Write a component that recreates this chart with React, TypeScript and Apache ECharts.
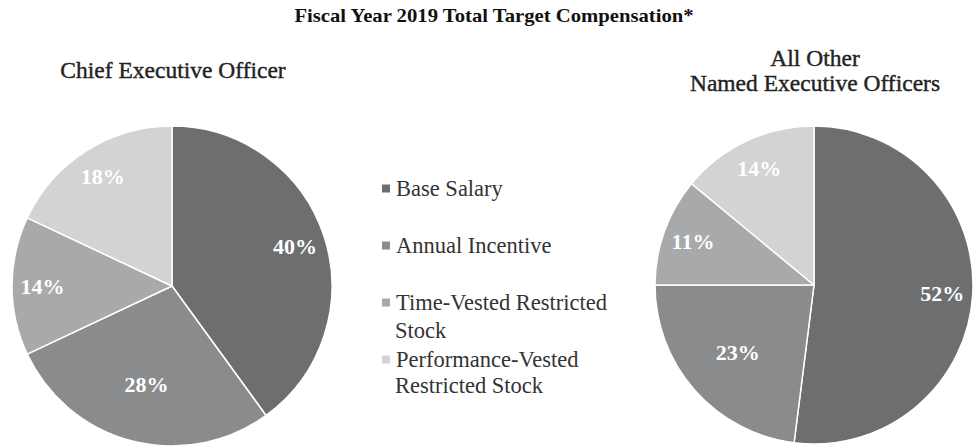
import React, { useEffect, useRef } from "react";
import * as echarts from "echarts";

const categories = [
  "Base Salary",
  "Annual Incentive",
  "Time-Vested Restricted Stock",
  "Performance-Vested Restricted Stock",
];
const legendFirstLines = ["Base Salary", "Annual Incentive", "Time-Vested Restricted", "Performance-Vested"];
const legendSecondLines = ["", "", "Stock", "Restricted Stock"];
const ceoValues = [40, 28, 14, 18];
const neoValues = [52, 23, 11, 14];
const sliceColors = ["#6d6e70", "#8a8b8d", "#a8a9ab", "#d2d3d5"];

const mainTitle = "Fiscal Year 2019 Total Target Compensation*";
const ceoTitle = "Chief Executive Officer";
const neoTitle = "All Other\nNamed Executive Officers";

const SERIF = "'Liberation Serif', 'Times New Roman', serif";

function pieSeries(values: number[], center: [number, number], R: number) {
  const data = values.map((v, i) => ({
    name: categories[i],
    value: v,
    itemStyle: { color: sliceColors[i] },
  }));
  const labelStyle = {
    position: "inside",
    formatter: "{c}%",
    color: "#ffffff",
    fontFamily: SERIF,
    fontWeight: "bold",
    fontSize: 22,
  };
  const base = {
    type: "pie",
    center,
    startAngle: 90,
    clockwise: true,
    avoidLabelOverlap: false,
    emphasis: { disabled: true },
    silent: true,
  };
  const overlay = (r0: number, showIdx: (i: number) => boolean) => ({
    ...base,
    radius: [r0, R],
    itemStyle: { color: "transparent", borderWidth: 0 },
    label: labelStyle,
    labelLine: { show: false },
    data: values.map((v, i) => ({
      name: categories[i],
      value: v,
      itemStyle: { color: "transparent" },
      label: { show: showIdx(i) },
    })),
  });
  return [
    {
      ...base,
      radius: [0, R],
      itemStyle: { borderColor: "#ffffff", borderWidth: 1.5 },
      label: { show: false },
      labelLine: { show: false },
      data,
    },
    overlay(R * 0.58, (i) => i !== 1),
    overlay(R * 0.24, (i) => i === 1),
  ];
}

export default function App() {
  const ref = useRef<HTMLDivElement>(null);
  useEffect(() => {
    document.body.style.margin = "0";
    if (!ref.current) return;
    const chart = echarts.init(ref.current, null, { renderer: "svg" });
    chart.setOption({
      animation: false,
      backgroundColor: "#ffffff",
      legend: {
        orient: "vertical",
        left: 380,
        top: 175,
        padding: 0,
        icon: "rect",
        itemWidth: 10,
        itemHeight: 10,
        itemGap: 30,
        selectedMode: false,
        data: categories,
        formatter: (name: string) => legendFirstLines[categories.indexOf(name)],
        textStyle: {
          fontFamily: SERIF,
          fontSize: 22.5,
          lineHeight: 27,
          color: "#333333",
        },
      },
      graphic: [
        {
          type: "text",
          x: 494,
          y: 16,
          scaleX: 1.15,
          style: {
            text: mainTitle,
            fontFamily: SERIF,
            fontWeight: "bold",
            fontSize: 18,
            fill: "#111111",
            textAlign: "center",
            textVerticalAlign: "middle",
          },
        },
        {
          type: "text",
          x: 173,
          y: 70,
          style: {
            text: ceoTitle,
            fontFamily: SERIF,
            fontSize: 23.5,
            fill: "#222222",
            stroke: "#222222",
            lineWidth: 0.4,
            textAlign: "center",
            textVerticalAlign: "middle",
          },
        },
        {
          type: "text",
          x: 815,
          y: 70,
          style: {
            text: neoTitle,
            fontFamily: SERIF,
            fontSize: 23.5,
            lineHeight: 25,
            fill: "#222222",
            stroke: "#222222",
            lineWidth: 0.4,
            textAlign: "center",
            textVerticalAlign: "middle",
          },
        },
        {
          type: "text",
          x: 395,
          y: 330,
          style: {
            text: legendSecondLines[2],
            fontFamily: SERIF,
            fontSize: 22.5,
            fill: "#333333",
            textAlign: "left",
            textVerticalAlign: "middle",
          },
        },
        {
          type: "text",
          x: 395,
          y: 385,
          style: {
            text: legendSecondLines[3],
            fontFamily: SERIF,
            fontSize: 22.5,
            fill: "#333333",
            textAlign: "left",
            textVerticalAlign: "middle",
          },
        },
      ],
      series: [
        ...pieSeries(ceoValues, [172, 286], 160),
        ...pieSeries(neoValues, [814, 285], 159),
      ],
    });
    return () => chart.dispose();
  }, []);
  return <div ref={ref} style={{ width: 974, height: 447 }} />;
}
